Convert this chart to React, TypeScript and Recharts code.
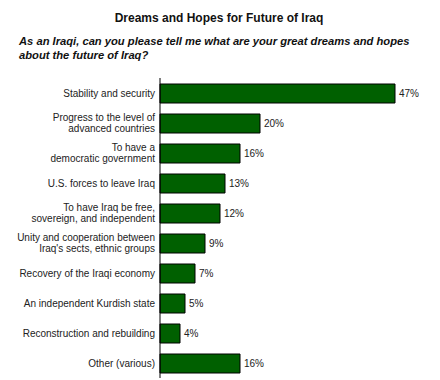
import { Bar, BarChart, LabelList, XAxis, YAxis } from "recharts";

const categories = [
  "Stability and security",
  "Progress to the level of\nadvanced countries",
  "To have a\ndemocratic government",
  "U.S. forces to leave Iraq",
  "To have Iraq be free,\nsovereign, and independent",
  "Unity and cooperation between\nIraq's sects, ethnic groups",
  "Recovery of the Iraqi economy",
  "An independent Kurdish state",
  "Reconstruction and rebuilding",
  "Other (various)",
];
const percents = [47, 20, 16, 13, 12, 9, 7, 5, 4, 16];

const data = categories.map((c, i) => ({ name: c, value: percents[i] }));

const font = "'Liberation Sans', Arial, sans-serif";

function CategoryTick(props: any) {
  const { x, y, payload } = props;
  const lines = String(payload.value).split("\n");
  const lh = 10.5;
  const start = y - ((lines.length - 1) * lh) / 2;
  return (
    <text x={x} y={start} textAnchor="end" fontSize={10} fill="#222" fontFamily={font}>
      {lines.map((l, i) => (
        <tspan key={i} x={x} y={start + i * lh} dy="0.355em">
          {l}
        </tspan>
      ))}
    </text>
  );
}

export default function App() {
  return (
    <div style={{ position: "absolute", left: 0, top: 0, width: 440, height: 380, background: "#fff", fontFamily: font }}>
      <div style={{ position: "absolute", left: 0, top: 11, width: 438, textAlign: "center", fontWeight: "bold", fontSize: 12, color: "#111" }}>
        Dreams and Hopes for Future of Iraq
      </div>
      <div style={{ position: "absolute", left: 19, top: 34, width: 420, whiteSpace: "nowrap", fontWeight: "bold", fontStyle: "italic", fontSize: 11.2, lineHeight: "14px", color: "#111" }}>
        As an Iraqi, can you please tell me what are your great dreams and hopes
        <br />
        about the future of Iraq?
      </div>
      <BarChart
        width={440}
        height={380}
        data={data}
        layout="vertical"
        barSize={19}
        margin={{ top: 78, right: 30, bottom: 2, left: 0 }}
        style={{ position: "absolute", left: 0, top: 0 }}
      >
        <XAxis type="number" domain={[0, 50]} hide />
        <YAxis
          type="category"
          dataKey="name"
          width={160}
          tickLine={false}
          tickSize={0}
          tickMargin={5}
          axisLine={{ stroke: "#000", strokeWidth: 1 }}
          tick={<CategoryTick />}
          interval={0}
        />
        <Bar dataKey="value" fill="#006000" stroke="#000" strokeWidth={1} isAnimationActive={false}>
          <LabelList
            dataKey="value"
            position="right"
            offset={4}
            formatter={(v: any) => `${v}%`}
            style={{ fontSize: 10, fill: "#222", fontFamily: font }}
          />
        </Bar>
      </BarChart>
    </div>
  );
}
